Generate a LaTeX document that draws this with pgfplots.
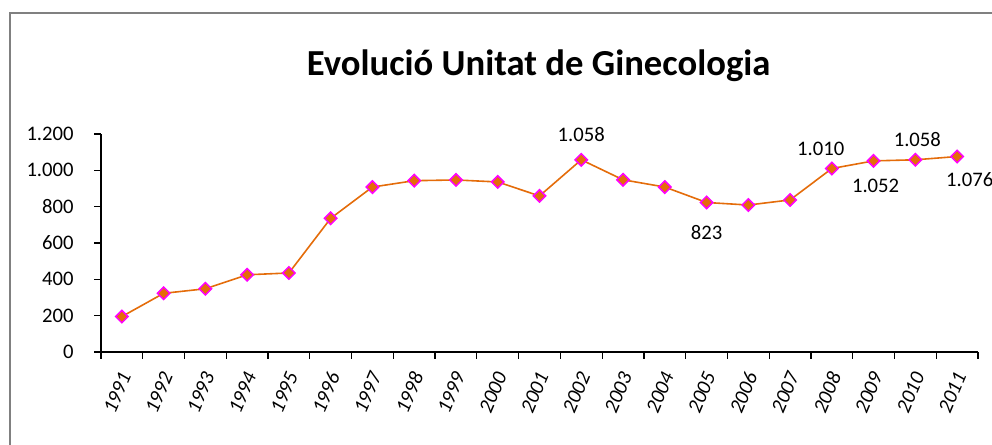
\documentclass[border=0pt]{standalone}
\usepackage{pgfplots}
\pgfplotsset{compat=1.18}
\usepackage{pgfplotstable}
\usepackage{fontspec}
\setmainfont{Carlito}
\definecolor{lineorange}{RGB}{228,108,10}
\definecolor{markedge}{RGB}{255,0,255}
\definecolor{framegray}{RGB}{128,128,128}

\pgfplotstableread{
x y lab dx dy
0 195 {} 0 0
1 323 {} 0 0
2 348 {} 0 0
3 425 {} 0 0
4 435 {} 0 0
5 736 {} 0 0
6 908 {} 0 0
7 943 {} 0 0
8 947 {} 0 0
9 936 {} 0 0
10 859 {} 0 0
11 1058 1.058 0 19.3
12 948 {} 0 0
13 908 {} 0 0
14 823 823 0 -22.5
15 809 {} 0 0
16 837 {} 0 0
17 1010 1.010 -8.3 14.5
18 1052 1.052 1.5 -18.75
19 1058 1.058 1.5 15
20 1076 1.076 9.5 -17
}\data

\begin{document}
\begin{tikzpicture}
\clip (0pt,0pt) rectangle (744pt,333.75pt);
\draw[framegray, line width=1.4pt] (7.5pt,324pt) rectangle (760pt,-15pt);
\node[font=\bfseries\fontsize{27.5}{32}\selectfont, anchor=base] at (404pt,277pt) {Evolució Unitat de Ginecologia};
\coordinate (O) at (75.75pt,69.75pt);
\begin{axis}[
  at={(O)}, anchor=south west,
  scale only axis,
  width=657.75pt, height=163.5pt,
  xmin=-0.5, xmax=20.5,
  ymin=0, ymax=1200,
  axis x line=bottom, axis y line=left,
  axis line style={-, line width=0.9pt},
  tick style={black, line width=0.9pt},
  tick align=outside,
  major tick length=5pt,
  xtick={-0.5,0.5,...,20.5},
  xticklabels={},
  extra x ticks={0,1,...,20},
  extra x tick labels={1991,1992,1993,1994,1995,1996,1997,1998,1999,2000,2001,2002,2003,2004,2005,2006,2007,2008,2009,2010,2011},
  extra x tick style={major tick length=0pt, tick style={draw=none}},
  xticklabel style={font=\itshape\fontsize{15.5}{18}\selectfont, xshift=3pt, yshift=-15pt, rotate=67, anchor=east, inner sep=1pt},
  ytick={0,200,...,1200},
  yticklabels={0,200,400,600,800,1.000,1.200},
  yticklabel style={font=\fontsize{15.5}{18}\selectfont, xshift=-12pt},
  /pgf/number format/assume math mode=true,
  clip=false,
]
\addplot[color=lineorange, line width=1.2pt,
  mark=square*, mark size=3.3pt,
  mark options={rotate=45, fill=lineorange, draw=markedge, line width=1.1pt},
  point meta=explicit symbolic,
  visualization depends on={\thisrow{dx}\as\dx},
  visualization depends on={\thisrow{dy}\as\dy},
  nodes near coords,
  every node near coord/.append style={font=\fontsize{15.5}{18}\selectfont, anchor=center, xshift=\dx pt, yshift=\dy pt, text=black}
] table[x=x, y=y, meta=lab] {\data};
\end{axis}
\end{tikzpicture}
\end{document}
